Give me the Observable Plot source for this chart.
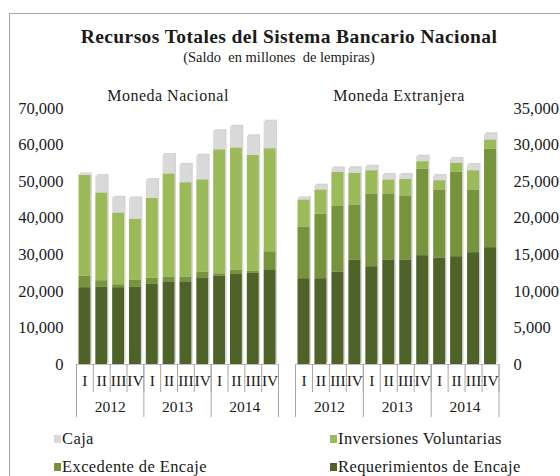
<!DOCTYPE html>
<html>
<head>
<meta charset="utf-8">
<script src="https://cdn.jsdelivr.net/npm/d3@7"></script>
<script src="https://cdn.jsdelivr.net/npm/@observablehq/plot@0.6"></script>
<style>
  html, body { margin: 0; padding: 0; background: #fff; }
  #wrap { position: relative; width: 560px; height: 476px; overflow: hidden; background: #fff; font-family: "Liberation Serif", "DejaVu Serif", serif; color: #1a1a1a; }
  .abs { position: absolute; }
  #frame { left: 9px; top: 13px; width: 620px; height: 520px; border: 1.5px solid #a6a6a6; box-sizing: border-box; }
  #title { left: 0; width: 578px; top: 25px; text-align: center; font-weight: bold; font-size: 19.5px; letter-spacing: 0.4px; line-height: 24px; }
  #subtitle { left: 0; width: 558px; top: 47px; text-align: center; font-size: 14.5px; line-height: 20px; }
  .ptitle { top: 86px; width: 240px; text-align: center; font-size: 16px; letter-spacing: 0.5px; line-height: 20px; }
  .plot { top: 90px; }
  .leg { font-size: 16.5px; letter-spacing: 0.4px; line-height: 20px; display: flex; align-items: center; white-space: nowrap; }
  .leg span.sw { display: inline-block; width: 7px; height: 8px; margin-right: 1px; }
</style>
</head>
<body>
<div id="wrap">
  <div id="frame" class="abs"></div>
  <div id="title" class="abs">Recursos Totales del Sistema Bancario Nacional</div>
  <div id="subtitle" class="abs">(Saldo&nbsp; en millones&nbsp; de lempiras)</div>
  <div class="abs ptitle" style="left:48px">Moneda Nacional</div>
  <div class="abs ptitle" style="left:279px">Moneda Extranjera</div>
  <div id="left" class="abs plot" style="left:0px"></div>
  <div id="right" class="abs plot" style="left:280px"></div>
  <div id="legend"></div>
</div>
<script>
const quarters = ["I", "II", "III", "IV"];
const years = ["2012", "2013", "2014"];
const series = ["Requerimientos de Encaje", "Excedente de Encaje", "Inversiones Voluntarias", "Caja"];
const colors = ["#4f6228", "#77933c", "#9bbb59", "#d9d9d9"];

// Moneda Nacional (millones de lempiras)
const mnReq  = [21000, 21200, 21000, 21200, 21900, 22600, 22600, 23500, 24100, 24600, 24900, 25900];
const mnExc  = [3100, 1700, 800, 1900, 1700, 1300, 1300, 1700, 700, 1200, 600, 4900];
const mnInv  = [27600, 24000, 19600, 16600, 21800, 28200, 25800, 25300, 33900, 33400, 31700, 28200];
const mnCaja = [300, 4600, 4200, 5700, 5000, 5200, 4900, 6600, 5100, 5800, 5200, 7400];

// Moneda Extranjera (millones de lempiras)
const meReq  = [11730, 11730, 12640, 14290, 13370, 14290, 14290, 14880, 14560, 14740, 15290, 15970];
const meExc  = [7030, 8800, 9030, 7520, 9940, 9030, 8750, 11810, 9300, 11530, 8570, 13450];
const meInv  = [3730, 3330, 4600, 4330, 3180, 1910, 2280, 1040, 1270, 1240, 2630, 1270];
const meCaja = [230, 590, 550, 690, 560, 690, 600, 690, 650, 590, 790, 790];

function longData(arrays) {
  const rows = [];
  for (let i = 0; i < 12; i++) {
    arrays.forEach((arr, k) => rows.push({i, quarter: quarters[i % 4], year: years[Math.floor(i / 4)], series: series[k], value: arr[i]}));
  }
  return rows;
}

function panel({data, yMax, yStep, anchor, width, marginLeft, marginRight, tickPadding}) {
  const grid = d3.range(0, 13);
  return Plot.plot({
    width, height: 340, marginTop: 18, marginBottom: 66, marginLeft, marginRight,
    style: {fontFamily: "Liberation Serif", fontSize: "15px", color: "#1a1a1a", background: "transparent", overflow: "visible"},
    x: {domain: [0, 12]},
    y: {domain: [0, yMax]},
    color: {domain: series, range: colors},
    marks: [
      Plot.axisY({anchor, label: null, ticks: d3.range(0, yMax + 1, yStep), tickSize: 0, tickPadding, tickFormat: d3.format(","), fontSize: 16.5, style: {letterSpacing: "0.5px"}}),
      Plot.rectY(data, {x1: "i", x2: d => d.i + 1, y: "value", fill: "#d4d4d4", insetLeft: 2.5, insetRight: 2.5, dx: 1.5, dy: -1.5}),
      Plot.rectY(data, {x1: "i", x2: d => d.i + 1, y: "value", fill: "series", insetLeft: 2.5, insetRight: 2.5}),
      Plot.ruleY([0], {stroke: "#bfbfbf"}),
      Plot.axisX({label: null, ticks: grid, tickSize: 28, tickFormat: () => "", stroke: "#a6a6a6"}),
      Plot.axisX({label: null, ticks: [0, 4, 8, 12], tickSize: 53, tickFormat: () => "", stroke: "#a6a6a6"}),
      Plot.axisX({label: null, ticks: d3.range(12).map(i => i + 0.5), tickSize: 0, tickPadding: 10, fontSize: 15.5, tickFormat: d => quarters[Math.floor(d) % 4]}),
      Plot.axisX({label: null, ticks: [2, 6, 10], tickSize: 0, tickPadding: 36, fontSize: 15.5, tickFormat: d => years[(d - 2) / 4]})
    ]
  });
}

document.getElementById("left").append(panel({
  data: longData([mnReq, mnExc, mnInv, mnCaja]), yMax: 70000, yStep: 10000, anchor: "left",
  width: 290, marginLeft: 76, marginRight: 12, tickPadding: 13
}));
document.getElementById("right").append(panel({
  data: longData([meReq, meExc, meInv, meCaja]), yMax: 35000, yStep: 5000, anchor: "right",
  width: 280, marginLeft: 15, marginRight: 61.5, tickPadding: 14.5
}));

// legend
const legPos = [
  {s: "Caja", left: 54, top: 429},
  {s: "Inversiones Voluntarias", left: 330, top: 429},
  {s: "Excedente de Encaje", left: 54, top: 457},
  {s: "Requerimientos de Encaje", left: 330, top: 457}
];
const legend = document.getElementById("legend");
legPos.forEach(p => {
  const d = document.createElement("div");
  d.className = "abs leg";
  d.style.left = p.left + "px";
  d.style.top = p.top + "px";
  const sw = document.createElement("span");
  sw.className = "sw";
  sw.style.background = colors[series.indexOf(p.s)];
  d.append(sw, document.createTextNode(p.s));
  legend.append(d);
});
</script>
</body>
</html>
